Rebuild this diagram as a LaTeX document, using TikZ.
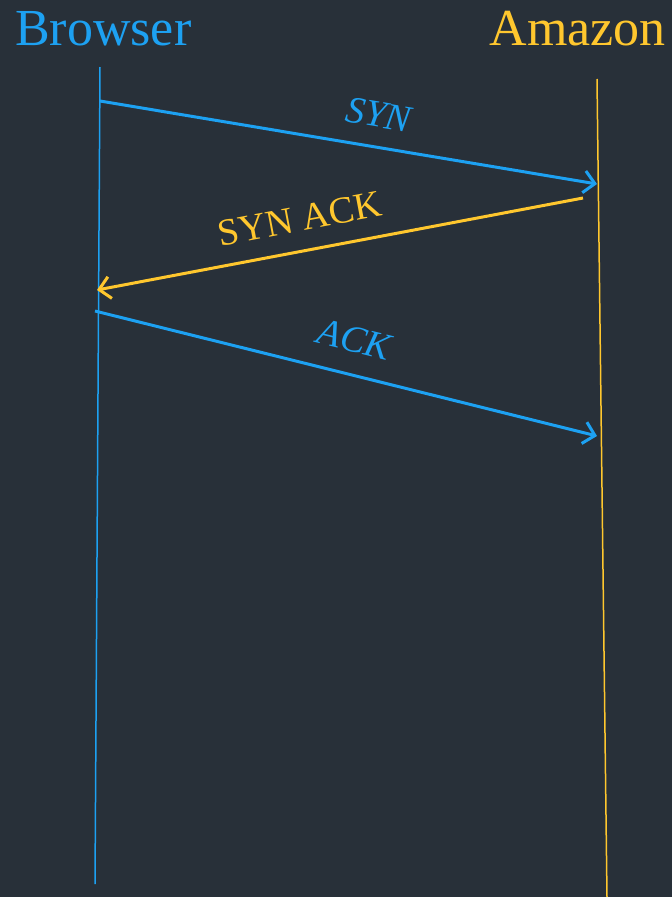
\documentclass[tikz,border=0pt]{standalone}
\usepackage{fontspec}
\setmainfont{Liberation Serif}
\usepackage{xcolor}
\definecolor{night}{HTML}{283039}
\definecolor{sky}{HTML}{1DA1F2}
\definecolor{gold}{HTML}{FFC72E}
\usetikzlibrary{arrows.meta, positioning}

\begin{document}
\begin{tikzpicture}[
  x=1pt, y=-1pt,
  lifeline/.style={line width=1.5pt, #1},
  msg/.style={-{Straight Barb[length=11pt, width=22pt, line width=3pt]}, line width=3pt, #1},
  actor/.style={font=\fontsize{52}{52}\selectfont, inner sep=0pt, #1},
  msgLabel/.style={font=\fontsize{38}{38}\selectfont, sloped, inner sep=0pt, #1},
]

% ------------------- Background -------------------
\fill[night] (0,0) rectangle (672,897);
\useasboundingbox (0,0) rectangle (672,897);

% ------------------- Actors -------------------
\node[actor=sky, anchor=base west] (browser) at (15,45) {Browser};
\node[actor=gold, anchor=base east] (amazon) at (666,45) {Amazon};

% Lifelines
\coordinate (browserTop) at (100,67);
\coordinate (browserBot) at (95,884);
\coordinate (amazonTop) at (597,79);
\coordinate (amazonBot) at (607,897);
\draw[lifeline=sky] (browserTop) -- (browserBot);
\draw[lifeline=gold] (amazonTop) -- (amazonBot);

% ------------------- Handshake -------------------
\coordinate (synOut) at (100,101);
\coordinate (synIn) at (597,184);
\coordinate (synAckOut) at (583,198);
\coordinate (synAckIn) at (97,290);
\coordinate (ackOut) at (95,311);
\coordinate (ackIn) at (597,436);

\draw[msg=sky] (synOut) -- node[msgLabel=sky, pos=0.55, above=18pt] (synLbl) {\itshape SYN} (synIn);
\draw[msg=gold] (synAckOut) -- node[msgLabel=gold, pos=0.57, above=18pt] (synAckLbl) {SYN ACK} (synAckIn);
\draw[msg=sky] (ackOut) -- node[msgLabel=sky, pos=0.50, above=21pt] (ackLbl) {\itshape ACK} (ackIn);

\end{tikzpicture}
\end{document}
